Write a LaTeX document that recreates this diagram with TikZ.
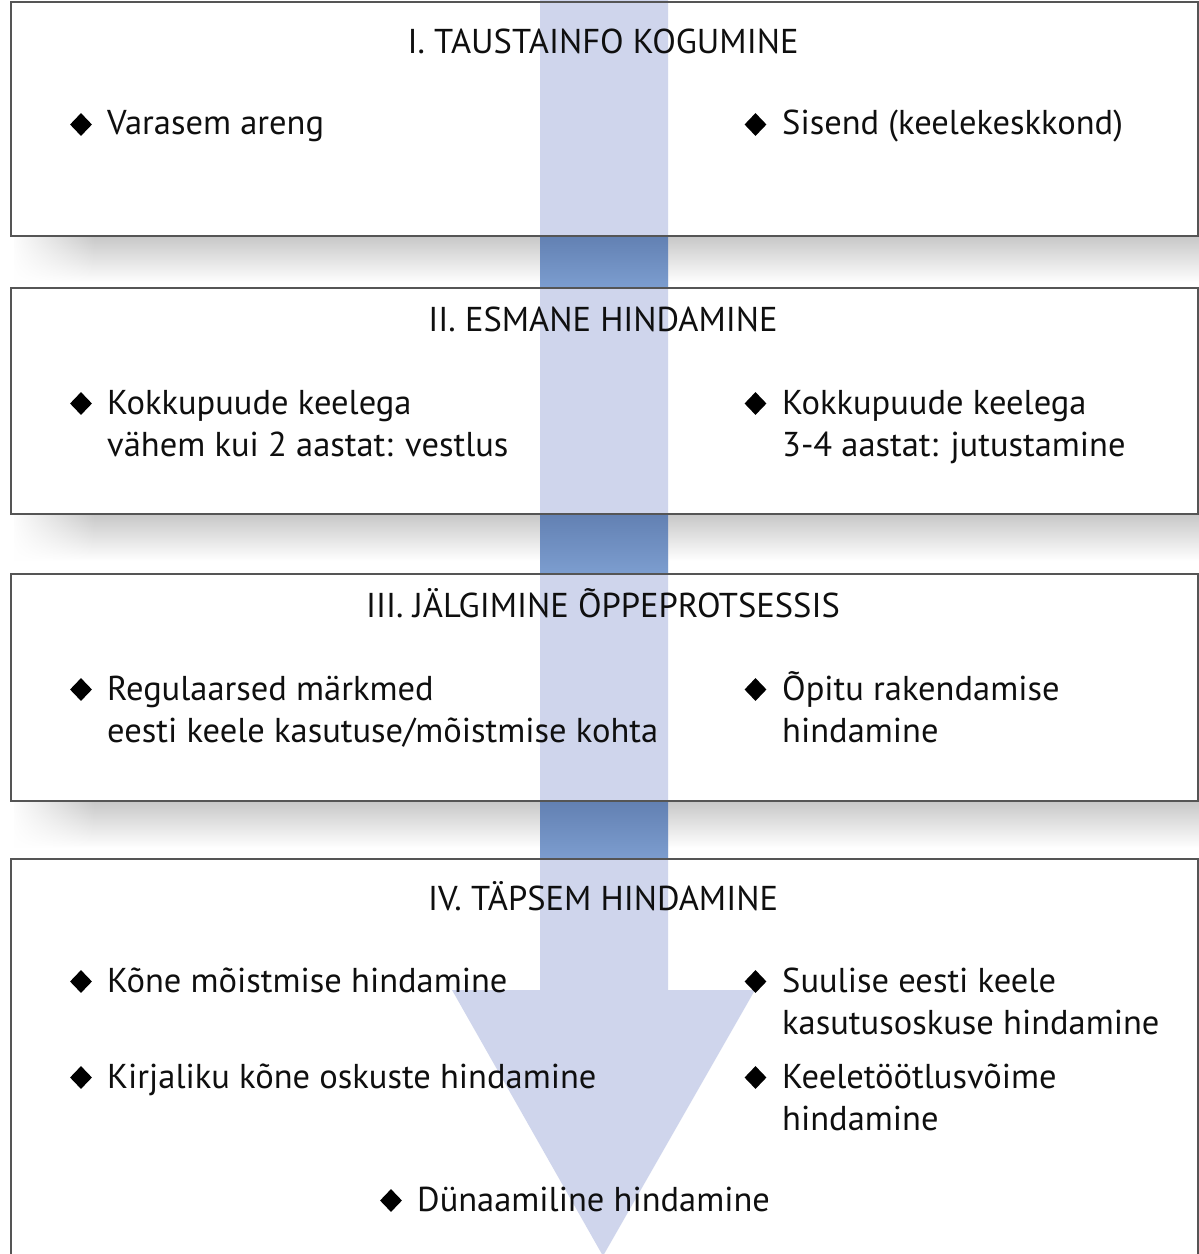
\documentclass[tikz,border=0pt]{standalone}
\usepackage{fontspec}
\setmainfont{PT Sans}
\usetikzlibrary{shapes.geometric,fadings}
\definecolor{arrowlight}{RGB}{207,213,236}
\definecolor{gaptop}{RGB}{98,128,178}
\definecolor{gapbot}{RGB}{124,157,207}
\definecolor{shadowgray}{RGB}{198,198,198}
\definecolor{boxline}{RGB}{85,85,85}
\definecolor{txt}{RGB}{15,15,15}
\tikzfading[name=leftopaque, left color=transparent!0, right color=transparent!100]
\tikzset{
  stagebox/.style={draw=boxline, line width=2.4pt},
  stagefill/.style={fill=white},
  title/.style={anchor=base, inner sep=0pt, text=txt, font=\fontsize{34.5}{42}\selectfont},
  item/.style={anchor=base west, inner sep=0pt, text=txt, font=\fontsize{34.5}{42}\selectfont},
  bul/.style={diamond, fill=black, draw=none, inner sep=0pt, minimum width=22pt, minimum height=23pt},
  shadowband/.style={top color=shadowgray, bottom color=white, draw=none},
  gapband/.style={top color=gaptop, bottom color=gapbot, draw=none},
}
\begin{document}
\begin{tikzpicture}[x=1pt,y=-1pt]
\useasboundingbox (0,0) rectangle (1199,1254);
\clip (0,0) rectangle (1199,1254);
% box fills
\fill[stagefill] (10,1) rectangle (1197,235);
\fill[stagefill] (10,287) rectangle (1197,513);
\fill[stagefill] (10,573) rectangle (1197,800);
\fill[stagefill] (10,858) rectangle (1197,1262);
% shadows
\foreach \a/\b in {235/287, 513/573, 800/858}{
  \fill[shadowband] (14,\a) rectangle (1199,\a+48);
  \fill[white, path fading=leftopaque] (10,\a) rectangle (95,\b-2);
}
% arrow
\fill[arrowlight] (540,0) -- (668,0) -- (668,990) -- (755,990) -- (603,1256) -- (452,990) -- (540,990) -- cycle;
% dark band of the arrow between boxes
\foreach \a/\b in {235/287, 513/573, 800/858}{
  \fill[gapband] (540,\a) rectangle (668,\b);
}
% box outlines
\node[stagebox, inner sep=0pt, minimum width=1187pt, minimum height=234pt, anchor=north west] (box1) at (10,1) {};
\node[stagebox, inner sep=0pt, minimum width=1187pt, minimum height=226pt, anchor=north west] (box2) at (10,287) {};
\node[stagebox, inner sep=0pt, minimum width=1187pt, minimum height=227pt, anchor=north west] (box3) at (10,573) {};
\node[stagebox, inner sep=0pt, minimum width=1187pt, minimum height=404pt, anchor=north west] (box4) at (10,858) {};

% Box I
\node[title] (t1) at (603,53) {I. TAUSTAINFO KOGUMINE};
\node[bul] (d11) at (81,124.5) {};
\node[item] (i11) at (107,134) {Varasem areng};
\node[bul] (d12) at (755.5,124.5) {};
\node[item] (i12) at (782,134) {Sisend (keelekeskkond)};

% Box II
\node[title] (t2) at (603,331) {II. ESMANE HINDAMINE};
\node[bul] (d21) at (81,403.5) {};
\node[item] (i21a) at (107,414) {Kokkupuude keelega};
\node[item] (i21b) at (107,456) {vähem kui 2 aastat: vestlus};
\node[bul] (d22) at (755.5,403.5) {};
\node[item] (i22a) at (782,414) {Kokkupuude keelega};
\node[item] (i22b) at (782,456) {3-4 aastat: jutustamine};

% Box III
\node[title] (t3) at (603,617) {III. JÄLGIMINE ÕPPEPROTSESSIS};
\node[bul] (d31) at (81,689.5) {};
\node[item] (i31a) at (107,700) {Regulaarsed märkmed};
\node[item] (i31b) at (107,742) {eesti keele kasutuse/mõistmise kohta};
\node[bul] (d32) at (755.5,689.5) {};
\node[item] (i32a) at (782,700) {Õpitu rakendamise};
\node[item] (i32b) at (782,742) {hindamine};

% Box IV
\node[title] (t4) at (603,910) {IV. TÄPSEM HINDAMINE};
\node[bul] (d41) at (81,981.5) {};
\node[item] (i41) at (107,992) {Kõne mõistmise hindamine};
\node[bul] (d42) at (755.5,981.5) {};
\node[item] (i42a) at (782,992) {Suulise eesti keele};
\node[item] (i42b) at (782,1034) {kasutusoskuse hindamine};
\node[bul] (d43) at (81,1077.5) {};
\node[item] (i43) at (107,1088) {Kirjaliku kõne oskuste hindamine};
\node[bul] (d44) at (755.5,1077.5) {};
\node[item] (i44a) at (782,1088) {Keeletöötlusvõime};
\node[item] (i44b) at (782,1130) {hindamine};
\node[bul] (d45) at (391,1200.5) {};
\node[item] (i45) at (417,1211) {Dünaamiline hindamine};
\end{tikzpicture}
\end{document}
